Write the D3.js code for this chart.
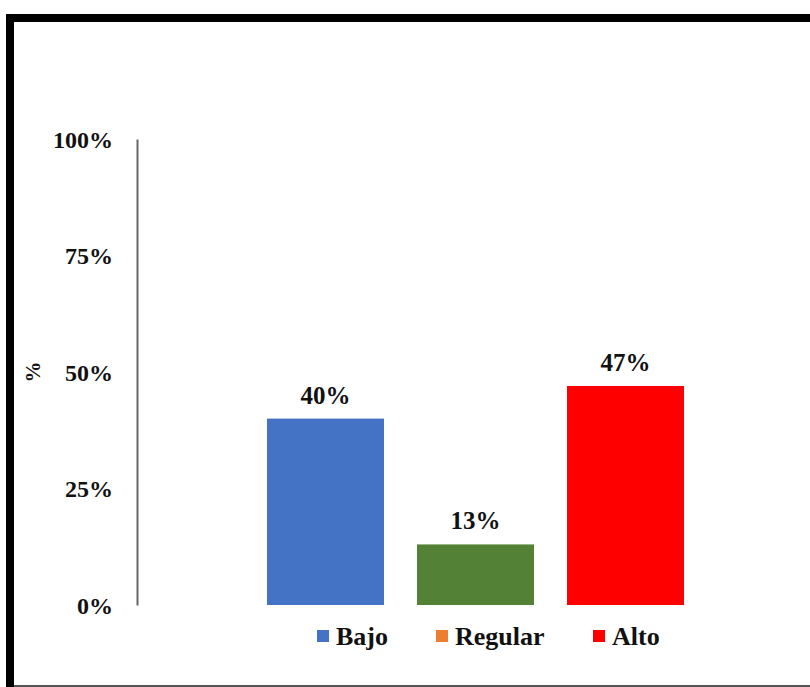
<!DOCTYPE html>
<html>
<head>
<meta charset="utf-8">
<script src="https://cdn.jsdelivr.net/npm/d3@7/dist/d3.min.js"></script>
<style>
  html, body { margin: 0; padding: 0; background: #fff; }
  svg { display: block; }
  text { font-family: "Liberation Serif", "Times New Roman", serif; font-weight: bold; fill: #111; }
</style>
</head>
<body>
<svg id="chart" width="810" height="687"></svg>
<script>
// Nivel alcanzado por categoría (porcentaje)
const categories = ["Bajo", "Regular", "Alto"];
const values = [40, 13, 47];
const barColors = ["#4472C4", "#538135", "#FF0000"];
const legendColors = ["#4472C4", "#ED7D31", "#FF0000"];
const yTicks = [0, 25, 50, 75, 100];

const svg = d3.select("#chart");

// Marco negro del gráfico
svg.append("rect").attr("x", 6).attr("y", 14).attr("width", 8).attr("height", 673).attr("fill", "#000");
svg.append("rect").attr("x", 6).attr("y", 14).attr("width", 804).attr("height", 8).attr("fill", "#000");
svg.append("rect").attr("x", 14).attr("y", 685).attr("width", 796).attr("height", 2).attr("fill", "#555");

const y = d3.scaleLinear().domain([0, 100]).range([605, 139]);
const x = d3.scaleBand().domain(categories).range([250.5, 700.5])
  .paddingInner(0.22).paddingOuter(0.11);

// Eje Y
const yAxis = d3.axisLeft(y).tickValues(yTicks).tickFormat(d => d + "%").tickSize(0).tickPadding(24);
const gy = svg.append("g").attr("transform", "translate(137,0)").call(yAxis);
gy.select(".domain").attr("stroke", "#666").attr("stroke-width", 2);
gy.selectAll(".tick text")
  .attr("font-size", 24).attr("font-family", "Liberation Serif, serif")
  .attr("font-weight", "bold").attr("fill", "#111").attr("dy", "0.35em");

// Título del eje Y
svg.append("text")
  .attr("transform", "translate(40,372) rotate(-90)")
  .attr("text-anchor", "middle")
  .attr("font-size", 21)
  .text("%");

// Barras
svg.selectAll("rect.bar")
  .data(values)
  .join("rect")
  .attr("class", "bar")
  .attr("x", (d, i) => x(categories[i]))
  .attr("width", x.bandwidth())
  .attr("y", d => y(d))
  .attr("height", d => y(0) - y(d))
  .attr("fill", (d, i) => barColors[i]);

// Etiquetas de valor
svg.selectAll("text.val")
  .data(values)
  .join("text")
  .attr("class", "val")
  .attr("x", (d, i) => x(categories[i]) + x.bandwidth() / 2)
  .attr("y", d => y(d) - 15)
  .attr("text-anchor", "middle")
  .attr("font-size", 25)
  .text(d => d + "%");

// Leyenda
const legendX = [317, 436, 593];
const lg = svg.selectAll("g.leg")
  .data(categories)
  .join("g")
  .attr("class", "leg")
  .attr("transform", (d, i) => `translate(${legendX[i]},636)`);
lg.append("rect").attr("x", 0).attr("y", -6).attr("width", 12).attr("height", 12)
  .attr("fill", (d, i) => legendColors[i]);
lg.append("text").attr("x", 19).attr("y", 0).attr("dy", "0.35em")
  .attr("font-size", 26).text(d => d);
</script>
</body>
</html>
